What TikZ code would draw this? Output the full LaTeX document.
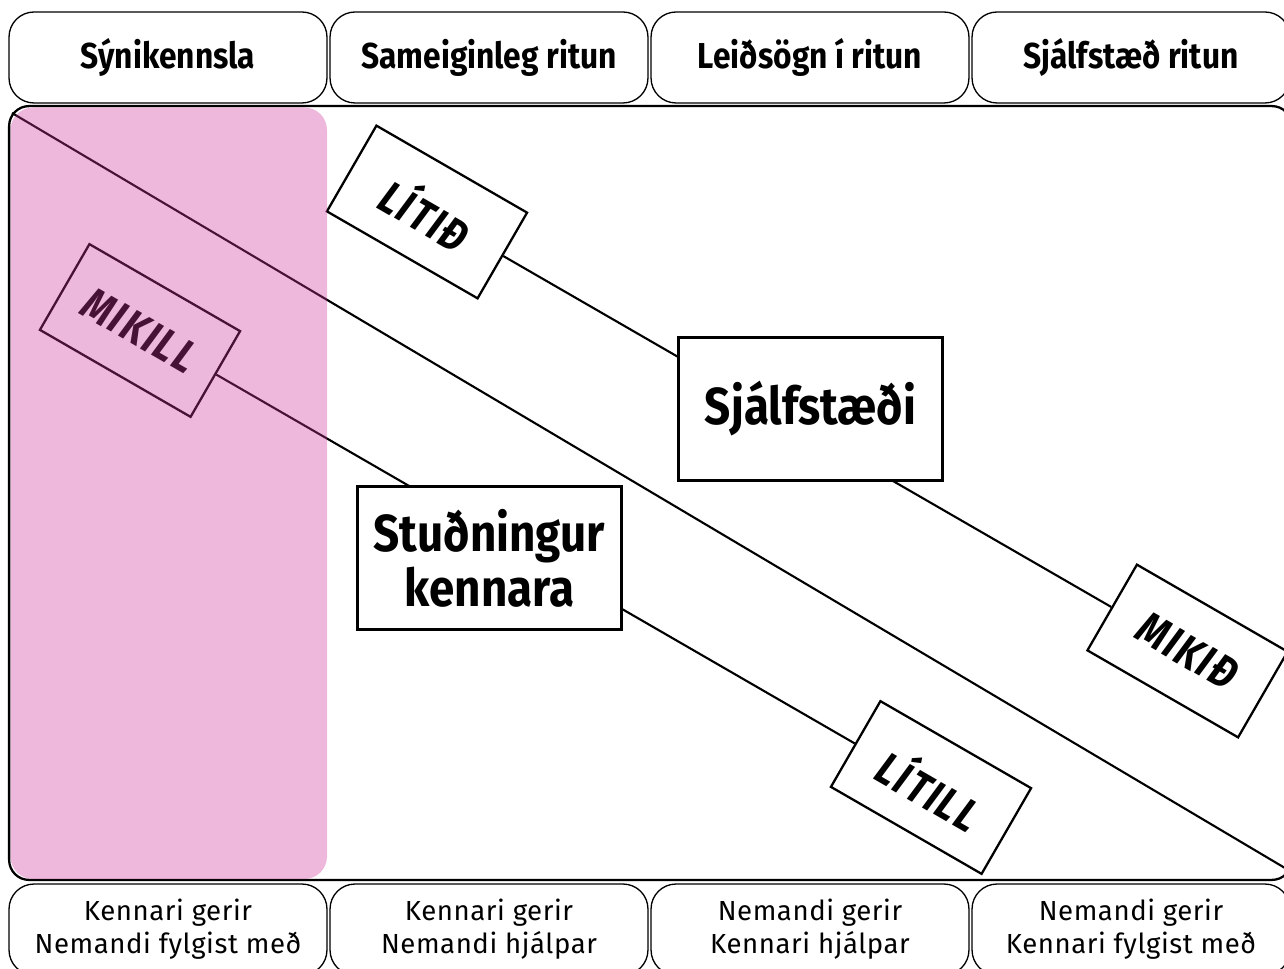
\documentclass[tikz,border=0pt]{standalone}
\usepackage{fontspec}
\setmainfont{Fira Sans}[BoldFeatures={FakeStretch=0.88},BoldItalicFeatures={FakeStretch=0.82}]
\usetikzlibrary{backgrounds}
\definecolor{veil}{RGB}{203,52,152}
\tikzset{phase/.style={draw, rounded corners=0.5cm, minimum width=6.36cm, minimum height=1.82cm, line width=0.75pt, font=\fontsize{20.5}{24}\selectfont\bfseries}}
\tikzset{role/.style={draw, rounded corners=0.5cm, minimum width=6.36cm, minimum height=1.82cm, line width=0.75pt, align=center, font=\fontsize{15.7}{18.8}\selectfont\addfontfeatures{LetterSpace=2}}}
\tikzset{level/.style={draw, fill=white, line width=1.3pt, minimum width=3.48cm, minimum height=1.98cm, rotate=-30, font=\fontsize{26}{28}\selectfont\bfseries\itshape\addfontfeatures{LetterSpace=5}}}
\tikzset{topic/.style={draw, fill=white, line width=1.3pt, minimum width=5.28cm, minimum height=2.86cm, align=center, font=\fontsize{29.6}{31.3}\selectfont\bfseries}}
\tikzset{link/.style={line width=1.2pt}}

\begin{document}
\begin{tikzpicture}[x=0.02cm, y=-0.02cm]
      \clip (0,0) rectangle (1284,969);

      \node[phase] (P1) at (168,57.5) {Sýnikennsla};
      \node[phase] (P2) at (489,57.5) {Sameiginleg ritun};
      \node[phase] (P3) at (810,57.5) {Leiðsögn í ritun};
      \node[phase] (P4) at (1131,57.5) {Sjálfstæð ritun};

      \node[draw, line width=1.3pt, rounded corners=0.4cm, minimum width=25.66cm, minimum height=15.48cm] (frame) at (650.5,493) {};

      \node[role] (R1) at (168,929.5) {Kennari gerir\\Nemandi fylgist með};
      \node[role] (R2) at (489,929.5) {Kennari gerir\\Nemandi hjálpar};
      \node[role] (R3) at (810,929.5) {Nemandi gerir\\Kennari hjálpar};
      \node[role] (R4) at (1131,929.5) {Nemandi gerir\\Kennari fylgist með};

      \node[level] (mikill) at (140,330.5) {MIKILL};
      \node[level] (litid) at (427,212) {LÍTIÐ};
      \node[level] (mikid) at (1187.5,651) {MIKIÐ};
      \node[level] (litill) at (931,787.5) {LÍTILL};

      \node[topic] (sjalf) at (810.5,409) {Sjálfstæði};
      \node[topic] (studn) at (489.5,558) {Stuðningur\\kennara};

      \coordinate (a0) at (12,113);
      \coordinate (a1) at (1290,871);

      \begin{scope}[on background layer]
        \draw[link] (litid) -- (mikid);
        \draw[link] (mikill) -- (litill);
        \draw[link] (a0) -- (a1);
      \end{scope}

      \fill[veil, opacity=0.35, rounded corners=0.45cm] (10.5,107.5) rectangle (327,879);
    \end{tikzpicture}
\end{document}
